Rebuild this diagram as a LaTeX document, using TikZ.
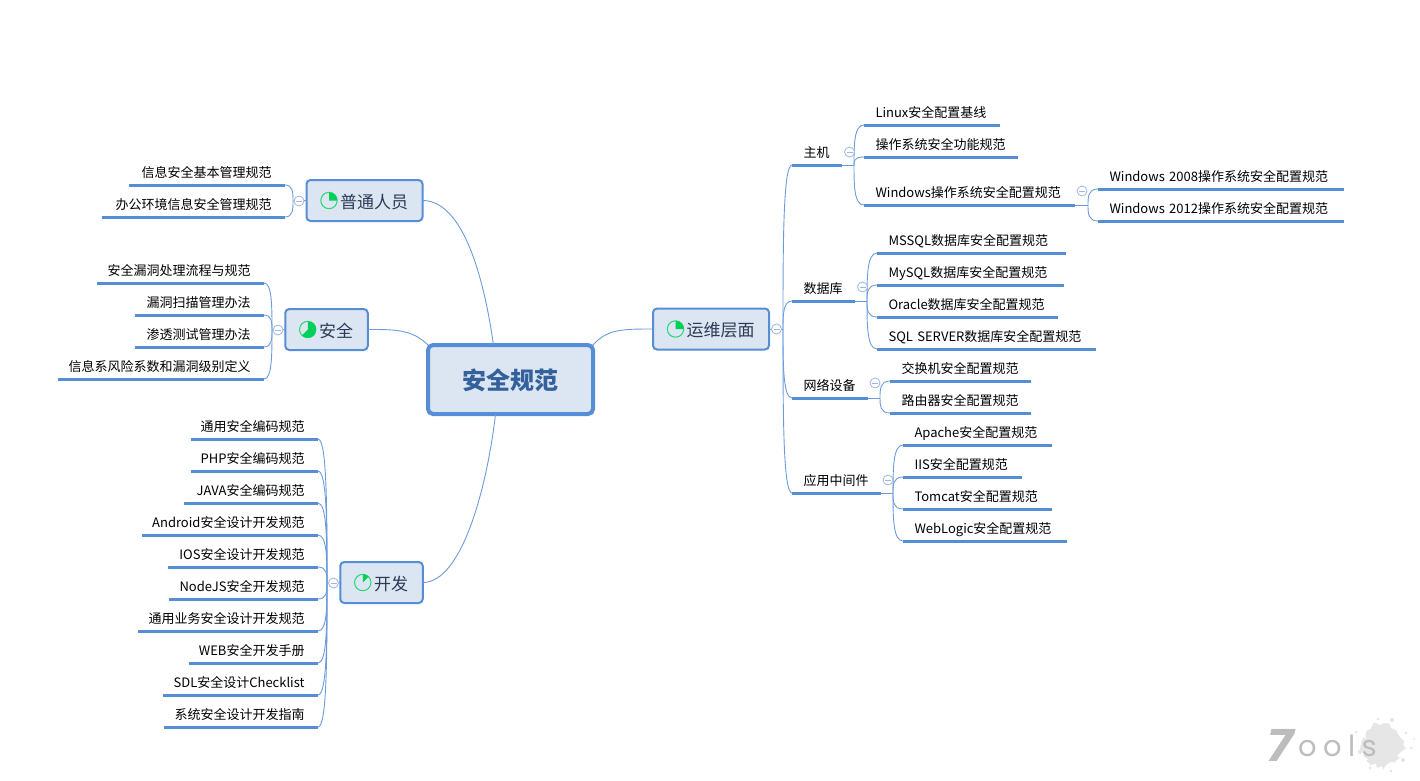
\documentclass[tikz,border=0pt]{standalone}
\usepackage{fontspec}
\setmainfont{Noto Sans CJK SC}
\newfontfamily\logofont[LetterSpace=22]{Poppins}
\newfontfamily\sevenfont{DejaVu Sans}
\usetikzlibrary{calc,decorations.pathmorphing}
\definecolor{boxfill}{HTML}{DCE6F2}
\definecolor{boxline}{HTML}{558ED5}
\definecolor{maintext}{HTML}{34609B}
\definecolor{branchtext}{HTML}{2B3A55}
\definecolor{linkline}{HTML}{6C9BDC}
\definecolor{foldline}{HTML}{9DB7DF}
\definecolor{piegreen}{HTML}{00D05A}
\definecolor{logogray}{HTML}{BDBDBD}
\definecolor{splashgray}{HTML}{E6E6E6}
\newcommand{\piemark}[2]{
    \draw[piegreen!85!white, line width=1pt] ([xshift=22.5]#1.west) circle (8.2);
    \fill[piegreen] ([xshift=22.5]#1.west) -- ++(270:8.2) arc[start angle=270, delta angle=#2, radius=8.2] -- cycle;
}

\begin{document}
\begin{tikzpicture}[x=1pt, y=-1pt,
    mainbox/.style={draw=boxline, fill=boxfill, rectangle, rounded corners=5pt, line width=4pt, minimum width=165, minimum height=69, outer sep=0pt, text=maintext, text height=23, text depth=3, font=\fontsize{24}{24}\selectfont\bfseries},
    branch/.style={draw=boxline, fill=boxfill, rectangle, rounded corners=4pt, line width=2pt, minimum width=#1, minimum height=41, outer sep=0pt, inner xsep=0pt, text=branchtext, text height=18, text depth=3, font=\fontsize{17}{17}\selectfont},
    under/.style={draw=boxline, line width=3pt},
    leaf/.style={rectangle, minimum height=26, inner xsep=0pt, inner ysep=0pt, outer sep=0pt, text height=13, text depth=3, font=\fontsize{13}{13}\selectfont, append after command={(\tikzlastnode.south west) edge[under] (\tikzlastnode.south east)}},
    rleaf/.style={leaf, anchor=south west, text width=#1, align=left, execute at begin node=\hspace*{11.5pt}},
    lleaf/.style={leaf, anchor=south east, text width=#1, align=right, execute at end node=\hspace*{13.5pt}},
    link/.style={draw=linkline, line width=0.9pt},
    curvy/.style={to path={.. controls ($(\tikztostart)!0.5!(\tikztostart |- \tikztotarget)$) and (\tikztostart |- \tikztotarget) .. (\tikztotarget)}},
    fold/.style={circle, draw=foldline, fill=white, line width=0.8pt, minimum size=10, inner sep=0pt, path picture={\draw[foldline, line width=0.8pt] ([xshift=2]path picture bounding box.west) -- ([xshift=-2]path picture bounding box.east);}}]
    \useasboundingbox (0,0) rectangle (1420,780);

    % Centre and first level
    \node[mainbox] (norm) at (510.5,379.5) {安全规范};
    \node[branch=116] (staff) at (364.5,200.5) {\hspace*{19pt}普通人员};
    \node[branch=82.5] (secure) at (326.5,329.5) {\hspace*{19pt}安全};
    \node[branch=82.5] (dev) at (381.5,582.5) {\hspace*{19pt}开发};
    \node[branch=116] (ops) at (711,329) {\hspace*{19pt}运维层面};

    \piemark{staff}{90}
    \piemark{secure}{225}
    \piemark{dev}{45}
    \piemark{ops}{90}

    \draw[link] ([xshift=-17]norm.north) .. controls +(-10,-70) and +(40,0) .. (staff.east);
    \draw[link] (norm.north west) .. controls +(-16,-16) and +(26,0) .. (secure.east);
    \draw[link] ([xshift=-15]norm.south) .. controls +(-8,70) and +(40,0) .. (dev.east);
    \draw[link] (norm.north east) .. controls +(14,-16) and +(-30,0) .. (ops.west);

    % Staff
    \node[lleaf=156] (baseRule) at (285,185) {信息安全基本管理规范};
    \node[lleaf=183] (officeRule) at (285,217) {办公环境信息安全管理规范};
    \coordinate (hubStaff) at (293,201);
    \draw[link] (staff.west) -- (hubStaff);
    \foreach \n in {baseRule,officeRule}
        \draw[link] (hubStaff) to[curvy] (\n.south east);
    \node[fold] (foldStaff) at (299,201) {};

    % Security
    \node[lleaf=167] (vulnFlow) at (264,283) {安全漏洞处理流程与规范};
    \node[lleaf=129] (vulnScan) at (264,315) {漏洞扫描管理办法};
    \node[lleaf=129] (penTest) at (264,347) {渗透测试管理办法};
    \node[lleaf=206] (riskLevel) at (264,379) {信息系风险系数和漏洞级别定义};
    \coordinate (hubSecure) at (272,330);
    \draw[link] (secure.west) -- (hubSecure);
    \foreach \n in {vulnFlow,vulnScan,penTest,riskLevel}
        \draw[link] (hubSecure) to[curvy] (\n.south east);
    \node[fold] (foldSecure) at (278,330) {};

    % Development
    \node[lleaf=127] (codeGen) at (318,439) {通用安全编码规范};
    \node[lleaf=127] (codePhp) at (318,471) {PHP安全编码规范};
    \node[lleaf=134] (codeJava) at (318,503) {JAVA安全编码规范};
    \node[lleaf=176] (codeAndroid) at (318,535) {Android安全设计开发规范};
    \node[lleaf=150] (codeIos) at (318,567) {IOS安全设计开发规范};
    \node[lleaf=149] (codeNode) at (318,599) {NodeJS安全开发规范};
    \node[lleaf=180] (codeBiz) at (318,631) {通用业务安全设计开发规范};
    \node[lleaf=129] (codeWeb) at (318,663) {WEB安全开发手册};
    \node[lleaf=155] (codeSdl) at (318,695) {SDL安全设计Checklist};
    \node[lleaf=154] (codeGuide) at (318,727) {系统安全设计开发指南};
    \coordinate (hubDev) at (327,583);
    \draw[link] (dev.west) -- (hubDev);
    \foreach \n in {codeGen,codePhp,codeJava,codeAndroid,codeIos,codeNode,codeBiz,codeWeb,codeSdl,codeGuide}
        \draw[link] (hubDev) to[curvy] (\n.south east);
    \node[fold] (foldDev) at (333.5,583) {};

    % Operations, second level
    \node[rleaf=50] (host) at (792,165) {主机};
    \node[rleaf=63] (database) at (792,301) {数据库};
    \node[rleaf=76] (network) at (792,398) {网络设备};
    \node[rleaf=89] (middleware) at (792,493) {应用中间件};
    \coordinate (hubOps) at (783,329);
    \draw[link] (ops.east) -- (hubOps);
    \foreach \n in {host,database,network,middleware}
        \draw[link] (hubOps) to[curvy] (\n.south west);
    \node[fold] (foldOps) at (776.5,329) {};

    % Host
    \node[rleaf=136] (linuxBase) at (864,125) {Linux安全配置基线};
    \node[rleaf=154] (osFunc) at (864,157) {操作系统安全功能规范};
    \node[rleaf=211] (winBase) at (864,205) {Windows操作系统安全配置规范};
    \coordinate (hubHost) at (854,165);
    \draw[link] (host.south east) -- (hubHost);
    \foreach \n in {linuxBase,osFunc,winBase}
        \draw[link] (hubHost) to[curvy] (\n.south west);
    \node[fold] (foldHost) at (849.5,152) {};

    \node[rleaf=246] (win2008) at (1098,189) {Windows 2008操作系统安全配置规范};
    \node[rleaf=246] (win2012) at (1098,221) {Windows 2012操作系统安全配置规范};
    \coordinate (hubWin) at (1088,205);
    \draw[link] (winBase.south east) -- (hubWin);
    \foreach \n in {win2008,win2012}
        \draw[link] (hubWin) to[curvy] (\n.south west);
    \node[fold] (foldWin) at (1082,191) {};

    % Database
    \node[rleaf=189] (dbMssql) at (877,253) {MSSQL数据库安全配置规范};
    \node[rleaf=187] (dbMysql) at (877,285) {MySQL数据库安全配置规范};
    \node[rleaf=181] (dbOracle) at (877,317) {Oracle数据库安全配置规范};
    \node[rleaf=219] (dbSql) at (877,349) {SQL SERVER数据库安全配置规范};
    \coordinate (hubDb) at (867,301);
    \draw[link] (database.south east) -- (hubDb);
    \foreach \n in {dbMssql,dbMysql,dbOracle,dbSql}
        \draw[link] (hubDb) to[curvy] (\n.south west);
    \node[fold] (foldDb) at (862.5,287) {};

    % Network
    \node[rleaf=141] (netSwitch) at (890,381) {交换机安全配置规范};
    \node[rleaf=141] (netRouter) at (890,413) {路由器安全配置规范};
    \coordinate (hubNet) at (880,398);
    \draw[link] (network.south east) -- (hubNet);
    \foreach \n in {netSwitch,netRouter}
        \draw[link] (hubNet) to[curvy] (\n.south west);
    \node[fold] (foldNet) at (875,383) {};

    % Middleware
    \node[rleaf=149] (mwApache) at (903,445) {Apache安全配置规范};
    \node[rleaf=119] (mwIis) at (903,477) {IIS安全配置规范};
    \node[rleaf=149] (mwTomcat) at (903,509) {Tomcat安全配置规范};
    \node[rleaf=164] (mwLogic) at (903,541) {WebLogic安全配置规范};
    \coordinate (hubMw) at (893,493);
    \draw[link] (middleware.south east) -- (hubMw);
    \foreach \n in {mwApache,mwIis,mwTomcat,mwLogic}
        \draw[link] (hubMw) to[curvy] (\n.south west);
    \node[fold] (foldMw) at (888,480) {};

    % Watermark
    \fill[splashgray, decorate, decoration={random steps, segment length=3pt, amplitude=3.5pt}] (1382,745) circle (21);
    \foreach \x/\y/\r in {1356/732/1.5,1360/752/2,1406/733/1.5,1411/748/1.5,1403/760/2,1378/719/1.5,1392/720/2,1370/768/1.5,1391/771/1.5,1414/739/1}
        \fill[splashgray] (\x,\y) circle (\r);
    \node[text=logogray, font=\sevenfont\fontsize{44}{44}\selectfont\bfseries\itshape] (logoSeven) at (1281,745) {7};
    \node[text=logogray, anchor=west, inner sep=0pt, font=\logofont\fontsize{29}{29}\selectfont] (logoRest) at (1298,746) {ools};
\end{tikzpicture}
\end{document}
